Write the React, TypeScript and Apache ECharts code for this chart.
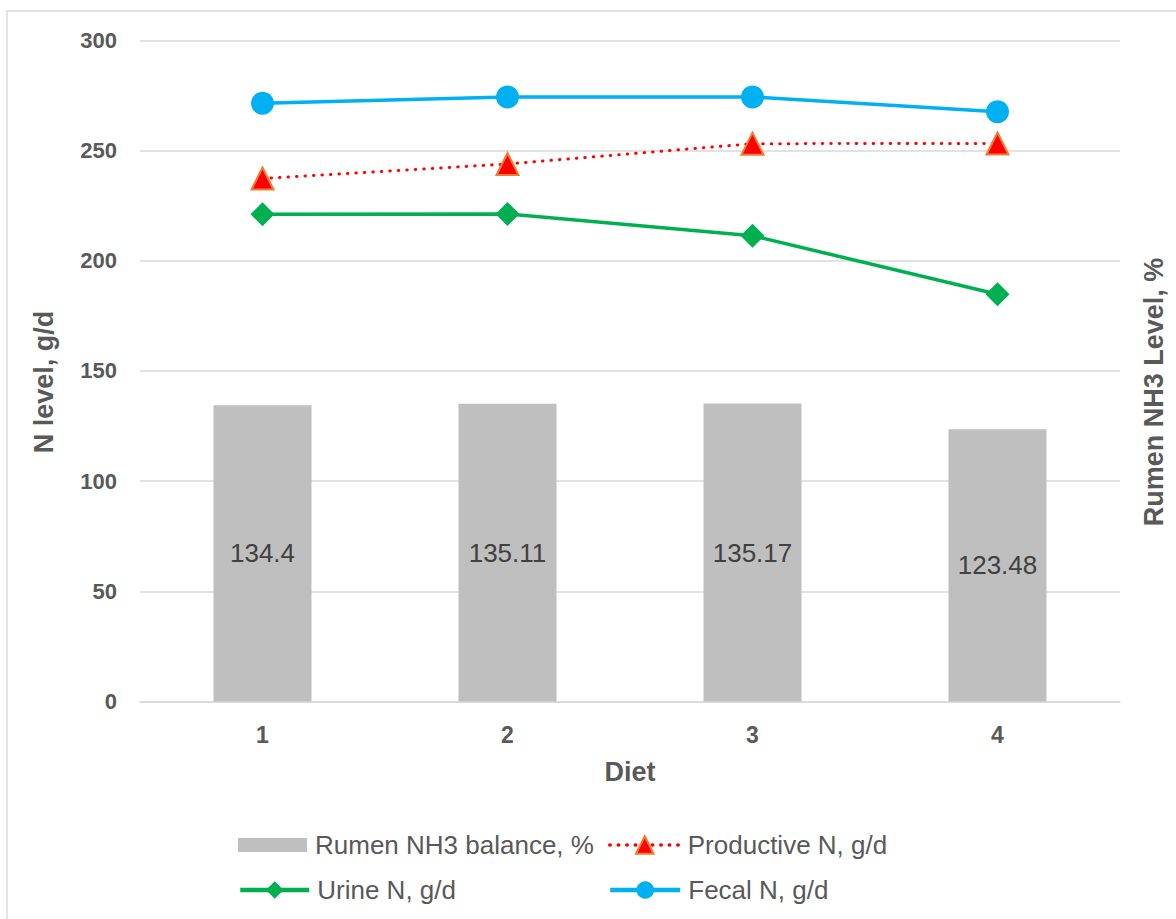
import { useEffect, useRef } from "react";
import * as echarts from "echarts";

// Diet categories and measured nitrogen figures
const diets = ["1", "2", "3", "4"];
const rumenBalance = [134.4, 135.11, 135.17, 123.48];
const productiveN = [237.3, 243.9, 253.1, 253.2];
const urineN = [221.1, 221.2, 211.3, 184.8];
const fecalN = [271.4, 274.3, 274.3, 267.6];

const seriesNames = [
  "Rumen NH3 balance, %",
  "Productive N, g/d",
  "Urine N, g/d",
  "Fecal N, g/d",
];

const FONT = '"Liberation Sans", Arial, sans-serif';
const GREY_TEXT = "#595959";
const GRID_LINE = "#D9D9D9";

export default function App() {
  const ref = useRef<HTMLDivElement>(null);

  useEffect(() => {
    if (!ref.current) return;
    const chart = echarts.init(ref.current, undefined, { renderer: "svg" });

    const legendBase = {
      orient: "horizontal" as const,
      padding: 0,
      selectedMode: false,
      textStyle: { fontFamily: FONT, fontSize: 26, color: GREY_TEXT, padding: [0, 0, 0, 3] },
    };

    chart.setOption({
      animation: false,
      backgroundColor: "#ffffff",
      grid: { left: 140, right: 56, top: 40.3, bottom: 217.5, containLabel: false },
      legend: [
        { ...legendBase, data: [{ name: seriesNames[0], icon: "rect" }], left: 238, top: 832, itemWidth: 69, itemHeight: 14 },
        {
          ...legendBase,
          data: [seriesNames[1]],
          left: 608,
          top: 832,
          itemWidth: 70,
          itemHeight: 22,
          lineStyle: { width: 3.5, type: [0.5, 8], cap: "round" },
        },
        {
          ...legendBase,
          data: [seriesNames[2]],
          left: 238,
          top: 877,
          itemWidth: 69,
          itemHeight: 22,
          lineStyle: { width: 4.5 },
        },
        {
          ...legendBase,
          data: [seriesNames[3]],
          left: 608,
          top: 877,
          itemWidth: 70,
          itemHeight: 22,
          lineStyle: { width: 4.5 },
        },
      ],
      xAxis: {
        type: "category",
        data: diets,
        boundaryGap: true,
        axisTick: { show: false },
        axisLine: { lineStyle: { color: GRID_LINE, width: 1.5 } },
        axisLabel: { fontFamily: FONT, fontSize: 23, fontWeight: "bold", color: GREY_TEXT, margin: 22 },
        name: "Diet",
        nameLocation: "middle",
        nameGap: 57,
        nameTextStyle: { fontFamily: FONT, fontSize: 27, fontWeight: "bold", color: GREY_TEXT },
      },
      yAxis: [
        {
          type: "value",
          min: 0,
          max: 300,
          interval: 50,
          axisLine: { show: false },
          axisTick: { show: false },
          splitLine: { lineStyle: { color: GRID_LINE, width: 1.5 } },
          axisLabel: { fontFamily: FONT, fontSize: 22, fontWeight: "bold", color: GREY_TEXT, margin: 23 },
        },
        {
          type: "value",
          min: 0,
          max: 300,
          interval: 50,
          position: "right",
          axisLine: { show: false },
          axisTick: { show: false },
          axisLabel: { show: false },
          splitLine: { show: false },
        },
      ],
      graphic: [
        {
          type: "rect",
          silent: true,
          shape: { x: 7, y: 11, width: 1200, height: 940 },
          style: { fill: "none", stroke: GRID_LINE, lineWidth: 1.5 },
          z: -10,
        },
        {
          type: "text",
          x: 44,
          y: 382,
          rotation: Math.PI / 2,
          style: {
            text: "N level, g/d",
            fontFamily: FONT,
            fontSize: 27,
            fontWeight: "bold",
            fill: GREY_TEXT,
            align: "center",
            verticalAlign: "middle",
          },
        },
        {
          type: "text",
          x: 1154,
          y: 392,
          rotation: Math.PI / 2,
          style: {
            text: "Rumen NH3 Level, %",
            fontFamily: FONT,
            fontSize: 27,
            fontWeight: "bold",
            fill: GREY_TEXT,
            align: "center",
            verticalAlign: "middle",
          },
        },
      ],
      series: [
        {
          name: seriesNames[0],
          type: "bar",
          data: rumenBalance,
          barWidth: "40%",
          itemStyle: { color: "#BFBFBF" },
          label: {
            show: true,
            position: "inside",
            fontFamily: FONT,
            fontSize: 26,
            color: "#404040",
          },
          z: 1,
        },
        {
          name: seriesNames[1],
          type: "line",
          data: productiveN,
          symbol: "triangle",
          symbolSize: 22,
          lineStyle: { color: "#FF0000", width: 3, type: [0.5, 8], cap: "round" },
          itemStyle: { color: "#FF0000", borderColor: "#ED7D31", borderWidth: 2 },
          z: 3,
        },
        {
          name: seriesNames[2],
          type: "line",
          data: urineN,
          symbol: "diamond",
          symbolSize: 24,
          lineStyle: { color: "#00B050", width: 3.5 },
          itemStyle: { color: "#00B050" },
          z: 3,
        },
        {
          name: seriesNames[3],
          type: "line",
          data: fecalN,
          symbol: "circle",
          symbolSize: 23,
          lineStyle: { color: "#00B0F0", width: 3.5 },
          itemStyle: { color: "#00B0F0" },
          z: 3,
        },
      ],
    });

    return () => chart.dispose();
  }, []);

  return (
    <div
      ref={ref}
      style={{ position: "fixed", left: 0, top: 0, width: 1176, height: 919 }}
    />
  );
}
